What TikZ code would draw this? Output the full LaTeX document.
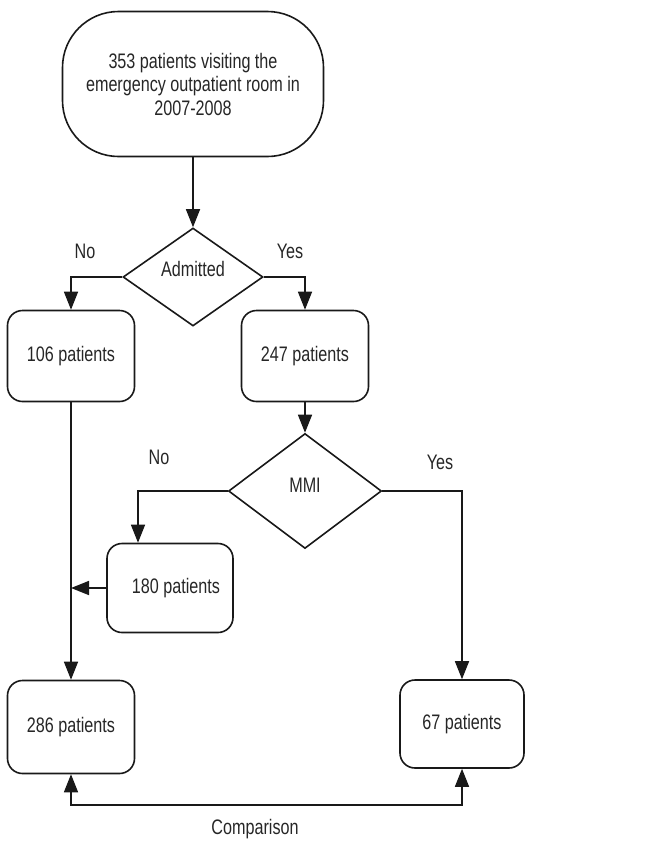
\documentclass[tikz,border=0pt]{standalone}
\usepackage{fontspec}
\setmainfont{Liberation Sans}[FakeStretch=0.77]
\usepackage{tikz}
\usetikzlibrary{shapes.geometric, arrows.meta}
\usepackage{xcolor}

\begin{document}
\begin{tikzpicture}[x=1pt, y=-1pt,
    font=\fontsize{21}{23.5}\selectfont, text=black!85,
    line width=1.6pt, draw=black!90,
    arrow/.style={-{Triangle[length=18pt,width=14pt]}},
    both/.style={{Triangle[length=18pt,width=14pt]}-{Triangle[length=18pt,width=14pt]}},
    start/.style={draw, rounded corners=56pt, minimum width=261pt, minimum height=145pt, align=center},
    box/.style={draw, rounded corners=15pt, minimum width=127pt, minimum height=91pt},
    decision/.style={draw, diamond, minimum width=140pt, minimum height=98pt, inner sep=0pt}]
    \useasboundingbox (0,0) rectangle (656,841);
    % Start
    \node[start] (visit) at (193,84) {353 patients visiting the\\emergency outpatient room in\\2007-2008};
    % Admitted
    \node[decision] (adm) at (193,277) {};
    \node (admtxt) at ([yshift=8pt]adm.center) {Admitted};
    \node[box] (n106) at (71,356) {106 patients};
    \node[box] (n247) at (305,356) {247 patients};
    \node (admno) at (85,251) {No};
    \node (admyes) at (290,251) {Yes};
    % MMI
    \node[decision, minimum width=153pt, minimum height=115pt] (mmi) at (305,491) {};
    \node (mmitxt) at ([yshift=6pt]mmi.center) {MMI};
    \node[box, minimum width=126pt, minimum height=89pt] (n180) at (170,588) {\hspace{12pt}180 patients};
    \node (mmino) at (159,457) {No};
    \node (mmiyes) at (440,462) {Yes};
    % Result
    \node[box, minimum height=93pt] (n286) at (71,727) {286 patients};
    \node[box, minimum width=124pt, minimum height=88pt] (n67) at (462,724) {67 patients};
    \coordinate (cmp) at (255,805);
    \node (cmptxt) at (255,829) {Comparison};

    \draw[arrow] (visit.south) -- (adm.north);
    \draw[arrow] (adm.west) -| (n106.north);
    \draw[arrow] (adm.east) -| (n247.north);
    \draw[arrow] (n247.south) -- (mmi.north);
    \draw[arrow] (mmi.west) -| ([xshift=-32pt]n180.north);
    \draw[arrow] (mmi.east) -| (n67.north);
    \draw[arrow] (n106.south) -- (n286.north);
    \draw[arrow] (n180.west) -- (n180.west -| n106.south);
    \draw[both] (n286.south) |- (cmp) -| (n67.south);
\end{tikzpicture}
\end{document}
